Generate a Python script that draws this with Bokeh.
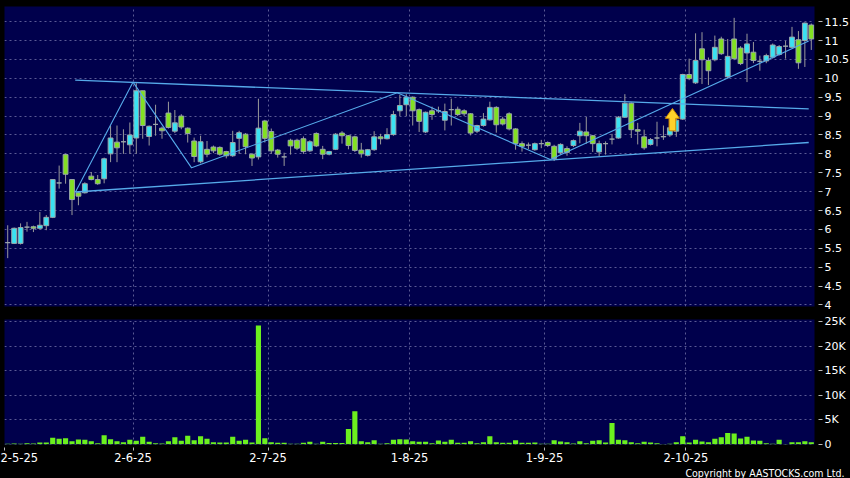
from bokeh.plotting import figure
from bokeh.models import (Range1d, FixedTicker, ColumnDataSource, GlobalInlineStyleSheet, Title)
from bokeh.layouts import column
from bokeh.embed import file_html
from bokeh.resources import INLINE

# ---------------- data ----------------
opens = [5.65, 5.63, 5.63, 6.06, 6.07, 6.03, 6.10, 6.32, 7.23, 7.98,
         7.32, 6.97, 6.97, 7.41, 7.32, 7.34, 8.00, 8.31, 8.32, 8.24,
         8.42, 9.67, 8.46, 8.78, 8.68, 9.08, 8.60, 9.00, 8.68, 8.34,
         7.79, 8.12, 8.18, 8.17, 8.06, 7.95, 8.41, 8.52, 7.99, 7.92,
         8.87, 8.59, 8.10, 7.92, 8.36, 8.36, 8.40, 8.08, 8.54, 8.12,
         7.99, 8.12, 8.55, 8.48, 8.45, 8.10, 7.96, 8.11, 8.45, 8.40,
         8.51, 9.14, 9.30, 9.50, 9.17, 8.58, 9.14, 9.14, 8.89, 9.17,
         9.18, 9.14, 9.06, 8.60, 8.75, 8.90, 9.23, 8.92, 9.06, 8.66,
         8.27, 8.23, 8.11, 8.27, 8.30, 8.20, 8.03, 8.14, 8.22, 8.48,
         8.58, 8.48, 8.05, 8.27, 8.39, 8.42, 8.97, 9.34, 8.64, 8.45,
         8.25, 8.42, 8.45, 8.50, 8.60, 8.92, 10.10, 9.88, 10.78, 10.47,
         10.49, 11.04, 10.04, 11.04, 10.80, 10.67, 10.69, 10.45, 10.46, 10.56,
         10.63, 10.85, 10.82, 11.02, 11.00, 11.41]
highs = [6.11, 6.05, 6.16, 6.20, 6.10, 6.46, 6.38, 7.32, 7.69, 8.00,
         7.32, 7.00, 7.25, 7.52, 7.44, 7.90, 8.75, 8.75, 8.65, 8.83,
         9.87, 9.67, 8.75, 9.30, 8.72, 9.38, 9.16, 9.05, 8.70, 8.43,
         8.48, 8.34, 8.22, 8.20, 8.08, 8.61, 8.61, 8.55, 8.02, 9.46,
         8.90, 8.67, 8.13, 8.03, 8.40, 8.40, 8.46, 8.36, 8.57, 8.21,
         8.08, 8.55, 8.60, 8.50, 8.48, 8.29, 8.13, 8.60, 8.53, 8.68,
         9.14, 9.56, 9.58, 9.52, 9.20, 9.12, 9.25, 9.25, 9.33, 9.46,
         9.25, 9.18, 9.08, 8.77, 9.08, 9.38, 9.26, 8.98, 9.10, 8.68,
         8.33, 8.30, 8.30, 8.37, 8.33, 8.24, 8.28, 8.20, 8.38, 8.82,
         8.98, 8.50, 8.35, 8.33, 8.53, 9.00, 9.58, 9.36, 8.82, 8.64,
         8.42, 8.85, 8.75, 8.70, 8.95, 10.12, 10.52, 11.19, 11.22, 10.55,
         11.13, 11.10, 11.04, 11.60, 10.85, 11.18, 10.96, 10.60, 10.65, 10.92,
         10.88, 10.99, 11.36, 11.25, 11.48, 11.45]
lows = [5.24, 5.62, 5.60, 5.94, 5.93, 6.00, 5.98, 6.30, 7.08, 7.21,
        6.38, 6.64, 6.95, 7.30, 7.18, 7.22, 7.78, 7.78, 8.00, 8.00,
        8.00, 8.40, 8.22, 8.48, 8.40, 8.67, 8.55, 8.65, 8.30, 7.78,
        7.75, 7.91, 8.02, 7.95, 7.88, 7.92, 8.00, 7.99, 7.68, 7.85,
        8.30, 8.00, 7.90, 7.68, 7.98, 8.10, 8.00, 8.05, 8.18, 7.86,
        7.96, 8.10, 8.27, 8.12, 8.05, 7.90, 7.93, 8.08, 8.25, 8.38,
        8.48, 9.00, 9.00, 8.75, 8.58, 8.55, 8.90, 9.08, 8.62, 8.75,
        9.00, 9.00, 8.49, 8.55, 8.72, 8.88, 8.56, 8.75, 8.62, 8.11,
        8.06, 8.13, 8.08, 8.15, 8.18, 7.81, 7.98, 7.95, 8.18, 8.28,
        8.27, 8.05, 7.94, 7.98, 8.25, 8.40, 8.95, 8.42, 8.25, 8.11,
        8.22, 8.20, 8.37, 8.45, 8.45, 8.90, 9.95, 9.85, 9.85, 9.82,
        10.45, 10.62, 10.00, 10.48, 10.35, 9.90, 10.40, 10.20, 10.40, 10.52,
        10.60, 10.52, 10.80, 10.25, 10.30, 10.75]
closes = [5.65, 6.03, 6.05, 6.06, 6.03, 6.11, 6.32, 7.32, 7.23, 7.46,
          6.79, 6.88, 7.21, 7.32, 7.21, 7.87, 8.42, 8.16, 8.32, 8.50,
          9.67, 8.75, 8.73, 8.78, 8.61, 8.70, 8.82, 8.71, 8.54, 7.93,
          8.32, 7.99, 8.08, 7.99, 7.95, 8.30, 8.56, 8.19, 7.89, 8.68,
          8.41, 8.08, 7.99, 7.92, 8.21, 8.15, 8.06, 8.32, 8.21, 7.99,
          8.06, 8.52, 8.48, 8.22, 8.09, 8.00, 8.11, 8.45, 8.40, 8.51,
          9.04, 9.28, 9.50, 9.14, 8.86, 9.10, 9.04, 9.14, 9.12, 9.17,
          9.04, 9.06, 8.55, 8.75, 8.92, 9.23, 8.77, 8.79, 8.66, 8.27,
          8.20, 8.23, 8.27, 8.27, 8.22, 7.88, 8.25, 8.04, 8.35, 8.60,
          8.48, 8.27, 8.27, 8.27, 8.39, 8.97, 9.34, 8.64, 8.60, 8.16,
          8.38, 8.42, 8.46, 8.69, 8.89, 10.10, 9.99, 10.47, 10.49, 10.20,
          10.82, 10.65, 10.58, 10.52, 10.39, 10.91, 10.47, 10.45, 10.60, 10.88,
          10.84, 10.85, 11.09, 10.41, 11.46, 11.04]
volumes = [100, 150, 100, 200, 150, 350, 350, 1300, 1100, 1200,
           600, 950, 900, 600, 200, 1800, 1000, 600, 400, 900,
           700, 1500, 500, 200, 150, 600, 1400, 700, 1700, 800,
           1600, 1100, 400, 350, 350, 1500, 700, 900, 350, 24200,
           1200, 400, 300, 300, 100, 100, 300, 500, 100, 500,
           250, 250, 250, 3100, 6700, 600, 400, 800, 100, 200,
           900, 1000, 950, 600, 500, 500, 200, 750, 500, 900,
           300, 300, 600, 200, 400, 1600, 400, 300, 300, 800,
           300, 300, 350, 100, 100, 800, 550, 400, 150, 600,
           200, 700, 800, 350, 4300, 900, 800, 400, 200, 500,
           350, 200, 50, 100, 400, 1600, 350, 900, 550, 400,
           1100, 1400, 2300, 2200, 1150, 1500, 750, 700, 200, 100,
           900, 50, 400, 400, 600, 400]

# first trading day of each month (index into the series) and its label
month_start_idx = [0, 20, 41, 63, 84, 106]
month_labels = ["2-5-25", "2-6-25", "2-7-25", "1-8-25", "1-9-25", "2-10-25"]

price_ticks = [4, 4.5, 5, 5.5, 6, 6.5, 7, 7.5, 8, 8.5, 9, 9.5, 10, 10.5, 11, 11.5]
price_tick_labels = ["4", "4.5", "5", "5.5", "6", "6.5", "7", "7.5", "8", "8.5",
                     "9", "9.5", "10", "10.5", "11", "11.5"]
volume_ticks = [0, 5000, 10000, 15000, 20000, 25000]
volume_tick_labels = ["0", "5K", "10K", "15K", "20K", "25K"]

# pattern lines drawn on the chart (index, price)
upper_line_x = [10.5, 124.6]
upper_line_y = [9.95, 9.19]
lower_line_x = [10.5, 124.6]
lower_line_y = [6.99, 8.30]
zigzag_x = [10.54, 19.5, 28.6, 60.6, 84.4, 124.6]
zigzag_y = [6.99, 9.90, 7.63, 9.62, 7.85, 10.99]

# breakout signal arrow (index, base price, tip price)
signal_idx = 103.4
signal_base = 8.61
signal_tip = 9.2

# ---------------- styling ----------------
NAVY = "#00004c"
CYAN = "#3ae2f2"
GREEN = "#82e022"
WICK = "#9a9a9a"
GRID = "#5a5a94"
LINE = "#56aaea"
VOLCOL = "#6cf01e"
FONT = "DejaVu Sans"

n = len(opens)
idx = list(range(n))
src = ColumnDataSource(dict(
    x=idx, o=opens, h=highs, l=lows, c=closes, v=volumes,
    top=[max(a, b) for a, b in zip(opens, closes)],
    bottom=[min(a, b) for a, b in zip(opens, closes)],
    color=[CYAN if c >= o else GREEN for o, c in zip(opens, closes)],
))

x_range = Range1d(-0.5, n - 0.5)
grid_x = [m - 0.5 for m in month_start_idx]


def style_right_axis(ax, ticks, labels):
    ax.ticker = FixedTicker(ticks=ticks)
    ax.major_label_overrides = {t: s for t, s in zip(ticks, labels)}
    ax.axis_line_color = None
    ax.major_tick_line_color = "#bbbbbb"
    ax.major_tick_in = -4
    ax.major_tick_out = 8
    ax.minor_tick_line_color = None
    ax.major_label_standoff = 2
    ax.major_label_text_color = "white"
    ax.major_label_text_font = FONT
    ax.major_label_text_font_size = "11px"


def style_common(fig):
    fig.background_fill_color = NAVY
    fig.border_fill_color = "black"
    fig.outline_line_color = None
    fig.xgrid.ticker = FixedTicker(ticks=grid_x)
    for g in (fig.xgrid, fig.ygrid):
        g.grid_line_color = GRID
        g.grid_line_dash = "2 3"
        g.grid_line_width = 1


# ---------------- price panel ----------------
p = figure(frame_width=810, frame_height=300, x_range=x_range,
           y_range=Range1d(3.96, 11.9), output_backend="svg",
           toolbar_location=None, y_axis_location="right", x_axis_location=None,
           min_border_left=4, min_border_right=36, min_border_top=6,
           min_border_bottom=6)
style_common(p)
style_right_axis(p.yaxis[0], price_ticks, price_tick_labels)

p.segment(x0="x", y0="l", x1="x", y1="h", source=src, line_color=WICK, line_width=1)
p.vbar(x="x", width=0.75, top="top", bottom="bottom", source=src,
       fill_color="color", line_color="#9aa6aa", line_width=1)

p.line(upper_line_x, upper_line_y, line_color=LINE, line_width=1.3)
p.line(lower_line_x, lower_line_y, line_color=LINE, line_width=1.3)
p.line(zigzag_x, zigzag_y, line_color=LINE, line_width=1.1)

# arrow shape built around the signal point
hw, sw = 1.1, 0.52
head_base = signal_tip - 0.26
p.patch([signal_idx - sw, signal_idx - sw, signal_idx - hw, signal_idx,
         signal_idx + hw, signal_idx + sw, signal_idx + sw],
        [signal_base, head_base, head_base, signal_tip, head_base, head_base, signal_base],
        fill_color="#ffd22a", line_color="#d08a00", line_width=1)

# ---------------- volume panel ----------------
pv = figure(frame_width=810, frame_height=125, x_range=x_range,
            y_range=Range1d(-60, 25400), output_backend="svg",
            toolbar_location=None, y_axis_location="right",
            min_border_left=4, min_border_right=36, min_border_top=7,
            min_border_bottom=12)
style_common(pv)
style_right_axis(pv.yaxis[0], volume_ticks, volume_tick_labels)
pv.ygrid.ticker = FixedTicker(ticks=volume_ticks)
pv.vbar(x="x", width=0.8, top="v", bottom=0, source=src,
        fill_color=VOLCOL, line_color=None)

xa = pv.xaxis[0]
xa.ticker = FixedTicker(ticks=grid_x)
xa.major_label_overrides = {t: s for t, s in zip(grid_x, month_labels)}
xa.axis_line_color = None
xa.major_tick_line_color = "#bbbbbb"
xa.major_tick_in = -3
xa.major_tick_out = 6
xa.minor_tick_line_color = None
xa.major_label_standoff = 2
xa.major_label_text_color = "white"
xa.major_label_text_font = FONT
xa.major_label_text_font_size = "11.5px"

pv.add_layout(Title(text="Copyright by AASTOCKS.com Ltd.", align="right",
                    text_color="white", text_font="DejaVu Sans Condensed",
                    text_font_size="10.5px", text_font_style="normal",
                    offset=-30, standoff=0), "below")

layout = column(p, pv, spacing=0, stylesheets=[GlobalInlineStyleSheet(
    css="html, body { margin: 0 !important; padding: 0; background: #000; overflow: hidden; }")])

open("out.html", "w").write(file_html(layout, INLINE))
